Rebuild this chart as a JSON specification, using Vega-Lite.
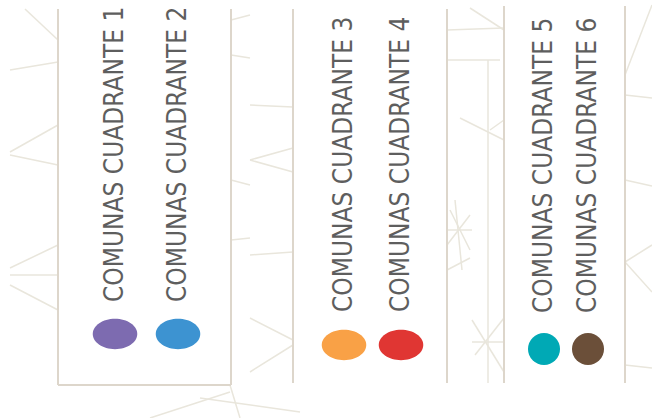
{
  "$schema": "https://vega.github.io/schema/vega-lite/v6.json",
  "width": 652,
  "height": 418,
  "autosize": {"type": "none"},
  "padding": 0,
  "background": "white",
  "config": {"view": {"stroke": null}, "axis": {"disable": true}},
  "datasets": {
    "items": [
      {"label": "COMUNAS CUADRANTE 1", "group": "a", "x": 115, "y": 334, "ty": 302},
      {"label": "COMUNAS CUADRANTE 2", "group": "a", "x": 178, "y": 334, "ty": 302},
      {"label": "COMUNAS CUADRANTE 3", "group": "b", "x": 344, "y": 345, "ty": 312},
      {"label": "COMUNAS CUADRANTE 4", "group": "b", "x": 401, "y": 345, "ty": 312},
      {"label": "COMUNAS CUADRANTE 5", "group": "c", "x": 544, "y": 349, "ty": 313},
      {"label": "COMUNAS CUADRANTE 6", "group": "c", "x": 588, "y": 349, "ty": 313}
    ],
    "borders": [
      {"x": 58, "x2": 58, "y": 9, "y2": 385},
      {"x": 231, "x2": 231, "y": 9, "y2": 385},
      {"x": 58, "x2": 231, "y": 385, "y2": 385},
      {"x": 293, "x2": 293, "y": 9, "y2": 383},
      {"x": 447, "x2": 447, "y": 9, "y2": 383},
      {"x": 504, "x2": 504, "y": 6, "y2": 383},
      {"x": 625, "x2": 625, "y": 6, "y2": 383}
    ],
    "web": [
      {"x": 25, "x2": 58, "y": 9, "y2": 40},
      {"x": 10, "x2": 58, "y": 70, "y2": 62},
      {"x": 10, "x2": 58, "y": 152, "y2": 125},
      {"x": 10, "x2": 58, "y": 155, "y2": 165},
      {"x": 10, "x2": 58, "y": 268, "y2": 245},
      {"x": 10, "x2": 58, "y": 275, "y2": 275},
      {"x": 10, "x2": 58, "y": 285, "y2": 310},
      {"x": 231, "x2": 250, "y": 20, "y2": 15},
      {"x": 231, "x2": 250, "y": 55, "y2": 58},
      {"x": 250, "x2": 293, "y": 105, "y2": 107},
      {"x": 250, "x2": 293, "y": 160, "y2": 148},
      {"x": 250, "x2": 293, "y": 160, "y2": 172},
      {"x": 231, "x2": 250, "y": 180, "y2": 185},
      {"x": 231, "x2": 250, "y": 240, "y2": 238},
      {"x": 250, "x2": 293, "y": 255, "y2": 252},
      {"x": 250, "x2": 293, "y": 318, "y2": 340},
      {"x": 250, "x2": 293, "y": 372, "y2": 345},
      {"x": 150, "x2": 230, "y": 418, "y2": 392},
      {"x": 200, "x2": 300, "y": 398, "y2": 412},
      {"x": 230, "x2": 240, "y": 385, "y2": 418},
      {"x": 470, "x2": 504, "y": 8, "y2": 30},
      {"x": 447, "x2": 504, "y": 30, "y2": 28},
      {"x": 447, "x2": 500, "y": 60, "y2": 60},
      {"x": 460, "x2": 504, "y": 118, "y2": 140},
      {"x": 490, "x2": 504, "y": 130, "y2": 120},
      {"x": 488, "x2": 488, "y": 60, "y2": 383},
      {"x": 450, "x2": 470, "y": 210, "y2": 250},
      {"x": 447, "x2": 472, "y": 230, "y2": 230},
      {"x": 447, "x2": 470, "y": 245, "y2": 215},
      {"x": 455, "x2": 462, "y": 200, "y2": 270},
      {"x": 472, "x2": 504, "y": 320, "y2": 372},
      {"x": 472, "x2": 504, "y": 342, "y2": 342},
      {"x": 475, "x2": 504, "y": 355, "y2": 318},
      {"x": 447, "x2": 470, "y": 270, "y2": 258},
      {"x": 625, "x2": 652, "y": 75, "y2": 5},
      {"x": 625, "x2": 652, "y": 95, "y2": 98},
      {"x": 625, "x2": 652, "y": 180, "y2": 186},
      {"x": 625, "x2": 652, "y": 262, "y2": 245},
      {"x": 625, "x2": 652, "y": 262, "y2": 292},
      {"x": 625, "x2": 652, "y": 365, "y2": 368}
    ],
    "panels": [
      {"x": 59, "x2": 230, "y": 9, "y2": 384},
      {"x": 294, "x2": 446, "y": 9, "y2": 383},
      {"x": 505, "x2": 624, "y": 6, "y2": 383}
    ]
  },
  "layer": [
    {
      "data": {"name": "web"},
      "mark": {"type": "rule", "color": "#e9e6dc", "strokeWidth": 1.5},
      "encoding": {
        "x": {"field": "x", "type": "quantitative", "scale": {"domain": [0, 652], "nice": false, "zero": false}},
        "x2": {"field": "x2"},
        "y": {"field": "y", "type": "quantitative", "scale": {"domain": [0, 418], "nice": false, "zero": false, "reverse": true}},
        "y2": {"field": "y2"}
      }
    },
    {
      "data": {"name": "panels"},
      "mark": {"type": "rect", "color": "white"},
      "encoding": {
        "x": {"field": "x", "type": "quantitative"},
        "x2": {"field": "x2"},
        "y": {"field": "y", "type": "quantitative"},
        "y2": {"field": "y2"}
      }
    },
    {
      "data": {"name": "borders"},
      "mark": {"type": "rule", "color": "#ddd6cb", "strokeWidth": 2},
      "encoding": {
        "x": {"field": "x", "type": "quantitative"},
        "x2": {"field": "x2"},
        "y": {"field": "y", "type": "quantitative"},
        "y2": {"field": "y2"}
      }
    },
    {
      "data": {"name": "items"},
      "transform": [{"filter": "datum.group !== 'c'"}],
      "mark": {"type": "point", "filled": true, "opacity": 1, "size": 1980, "shape": "M-1,0A1,0.68,0,1,0,1,0A1,0.68,0,1,0,-1,0Z"},
      "encoding": {
        "x": {"field": "x", "type": "quantitative"},
        "y": {"field": "y", "type": "quantitative"},
        "color": {
          "field": "label", "type": "nominal", "legend": null,
          "scale": {
            "domain": ["COMUNAS CUADRANTE 1", "COMUNAS CUADRANTE 2", "COMUNAS CUADRANTE 3", "COMUNAS CUADRANTE 4", "COMUNAS CUADRANTE 5", "COMUNAS CUADRANTE 6"],
            "range": ["#7d6bb0", "#3d93d1", "#f9a146", "#e03633", "#00a9b5", "#6b4f39"]
          }
        }
      }
    },
    {
      "data": {"name": "items"},
      "transform": [{"filter": "datum.group === 'c'"}],
      "mark": {"type": "point", "filled": true, "opacity": 1, "size": 1024, "shape": "circle"},
      "encoding": {
        "x": {"field": "x", "type": "quantitative"},
        "y": {"field": "y", "type": "quantitative"},
        "color": {"field": "label", "type": "nominal", "legend": null}
      }
    },
    {
      "data": {"name": "items"},
      "mark": {
        "type": "text", "angle": 270, "align": "left", "baseline": "middle",
        "font": "Liberation Sans Narrow, DejaVu Sans Condensed, Roboto Condensed, sans-serif",
        "fontSize": 26, "color": "#5e5e5e"
      },
      "encoding": {
        "x": {"field": "x", "type": "quantitative"},
        "y": {"field": "ty", "type": "quantitative"},
        "text": {"field": "label"}
      }
    }
  ]
}
